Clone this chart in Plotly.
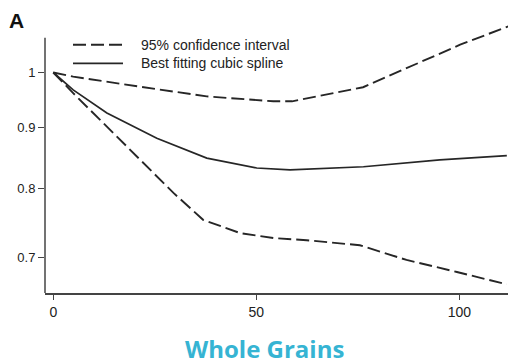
import plotly.graph_objects as go
import math

# Data (x: whole grain intake, y: relative risk, log scale)
spline_x = [0, 4.9, 13.2, 25.5, 37.8, 50.1, 58.3, 76.4, 95.2, 111.7]
spline_y = [1.0, 0.967, 0.925, 0.881, 0.848, 0.832, 0.829, 0.834, 0.845, 0.852]

lower_x = [0, 4.9, 13.2, 21.4, 29.6, 36.9, 46.0, 54.2, 62.4, 75.5, 87.0, 99.4, 111.7]
lower_y = [1.0, 0.961, 0.901, 0.845, 0.793, 0.753, 0.734, 0.727, 0.724, 0.717, 0.697, 0.681, 0.665]

upper_x = [0, 4.9, 21.4, 37.8, 54.2, 58.8, 76.3, 92.0, 100.2, 112.1]
upper_y = [1.0, 0.992, 0.973, 0.955, 0.946, 0.946, 0.972, 1.025, 1.055, 1.093]

x_ticks = [0, 50, 100]
y_ticks = [0.7, 0.8, 0.9, 1]
y_tick_text = ["0.7", "0.8", "0.9", "1"]

line_color = "#262626"
dash = "13px,5px"

# page has an 8px body margin; figure is sized/placed to compensate
OFF = 8
PW, PH = 471, 270.1          # plot area size in px
PL, PT = 45, 23.2            # plot area left/top in page px


def px(x):
    return (x - PL) / PW


def py(y):
    return (PT + PH - y) / PH


fig = go.Figure()
fig.add_trace(go.Scatter(x=upper_x, y=upper_y, mode="lines",
                         line=dict(color=line_color, width=1.9, dash=dash),
                         showlegend=False))
fig.add_trace(go.Scatter(x=lower_x, y=lower_y, mode="lines",
                         line=dict(color=line_color, width=1.9, dash=dash),
                         showlegend=False))
fig.add_trace(go.Scatter(x=spline_x, y=spline_y, mode="lines",
                         line=dict(color=line_color, width=1.7),
                         showlegend=False))

y_lo, y_hi, y_axis_top = 0.654, 1.10, 1.069

fig.update_layout(
    width=516 - OFF, height=362 - OFF,
    margin=dict(l=PL - OFF, r=0, t=PT - OFF, b=(362 - OFF) - (PT - OFF) - PH),
    paper_bgcolor="white", plot_bgcolor="white",
    font=dict(family="Liberation Sans, Arial, sans-serif", size=13, color="#222"),
    xaxis=dict(range=[-2.04, 113.96], tickvals=x_ticks, ticks="outside",
               ticklen=5, tickwidth=1.3, tickcolor="#444", showgrid=False,
               tickfont=dict(size=14),
               zeroline=False, showline=True, linecolor="#444", linewidth=1.5),
    yaxis=dict(type="log", range=[math.log10(y_lo), math.log10(y_hi)],
               tickvals=y_ticks, ticktext=y_tick_text, ticks="outside",
               ticklen=6, tickwidth=1.3, tickcolor="#444", showgrid=False,
               tickfont=dict(size=13),
               zeroline=False, showline=False),
)

# y axis line only up to the frame top
fig.add_shape(type="line", xref="paper", yref="y", x0=0, x1=0,
              y0=y_lo, y1=y_axis_top, line=dict(color="#444", width=1.5))

# legend drawn manually
fig.add_shape(type="line", xref="paper", yref="paper",
              x0=px(73), x1=px(123), y0=py(45), y1=py(45),
              line=dict(color=line_color, width=1.9, dash=dash))
fig.add_shape(type="line", xref="paper", yref="paper",
              x0=px(73), x1=px(123), y0=py(63.5), y1=py(63.5),
              line=dict(color=line_color, width=1.7))
fig.add_annotation(text="95% confidence interval", xref="paper", yref="paper",
                   x=px(139), y=py(45), xanchor="left",
                   yanchor="middle", showarrow=False,
                   font=dict(size=14, color="#222"))
fig.add_annotation(text="Best fitting cubic spline", xref="paper", yref="paper",
                   x=px(139), y=py(63.5), xanchor="left",
                   yanchor="middle", showarrow=False,
                   font=dict(size=14, color="#222"))

# panel label
fig.add_annotation(text="<b>A</b>", xref="paper", yref="paper",
                   x=px(7), y=py(21), xanchor="left",
                   yanchor="middle", showarrow=False,
                   font=dict(size=21, color="#111"))

# title below
fig.add_annotation(text="<b>Whole Grains</b>", xref="paper", yref="paper",
                   x=px(264), y=py(349), xanchor="center",
                   yanchor="middle", showarrow=False,
                   font=dict(family="Open Sans", size=24, color="#36b4d3"))

fig.write_html("out.html")
